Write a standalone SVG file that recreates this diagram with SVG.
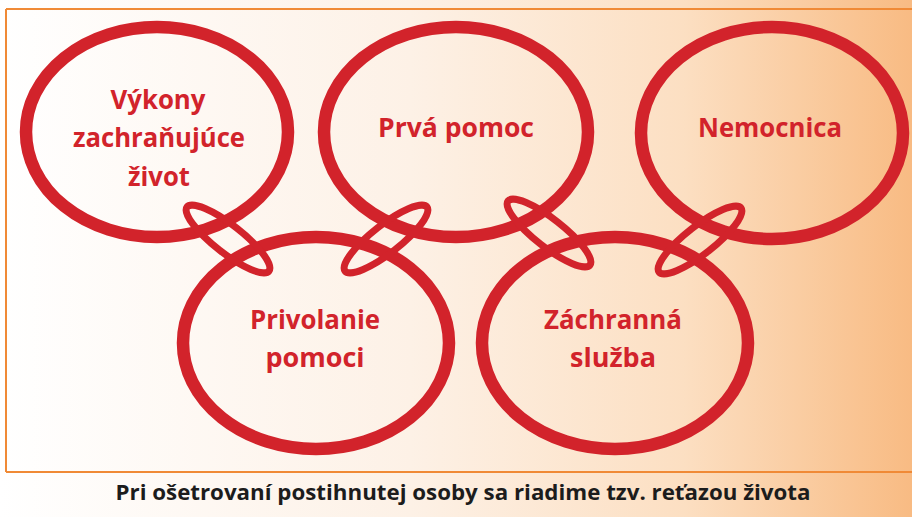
<svg xmlns="http://www.w3.org/2000/svg" width="912" height="517" viewBox="0 0 912 517">
<defs>
<linearGradient id="bg" x1="0" y1="0" x2="1" y2="0">
<stop offset="0" stop-color="#ffffff"/>
<stop offset="0.45" stop-color="#fdf1e6"/>
<stop offset="0.75" stop-color="#fcdfc2"/>
<stop offset="1" stop-color="#f8bb83"/>
</linearGradient>
<style>
.ring{fill:none;stroke:#d2232b;stroke-width:12.5}
.link{fill:none;stroke:#d2232b;stroke-width:7}
.lbl{font-family:"Open Sans","Liberation Sans",sans-serif;font-weight:bold;font-size:27px;fill:#d2232b;text-anchor:middle}
.cap{font-family:"Open Sans","Liberation Sans",sans-serif;font-weight:bold;font-size:22px;fill:#1c1c1c;text-anchor:middle}
.frame{stroke:#f08a36;stroke-width:2;fill:none}
</style>
</defs>
<rect x="0" y="0" width="912" height="517" fill="url(#bg)"/>
<g id="frame">
<line class="frame" x1="6" y1="9" x2="912" y2="9"/>
<line class="frame" x1="6" y1="9" x2="6" y2="472"/>
<line class="frame" x1="6" y1="472" x2="912" y2="472"/>
</g>
<g id="node-vykony">
<ellipse class="ring" cx="157" cy="132" rx="131" ry="105"/>
<text class="lbl" x="158" y="109" textLength="95" lengthAdjust="spacingAndGlyphs">Výkony</text>
<text class="lbl" x="159" y="147" textLength="172" lengthAdjust="spacingAndGlyphs">zachraňujúce</text>
<text class="lbl" x="159" y="186" textLength="62" lengthAdjust="spacingAndGlyphs">život</text>
</g>
<g id="node-prva-pomoc">
<ellipse class="ring" cx="456" cy="132" rx="132" ry="105"/>
<text class="lbl" x="456" y="137" textLength="156" lengthAdjust="spacingAndGlyphs">Prvá pomoc</text>
</g>
<g id="node-nemocnica">
<ellipse class="ring" cx="772" cy="133" rx="131" ry="106"/>
<text class="lbl" x="770" y="137" textLength="144" lengthAdjust="spacingAndGlyphs">Nemocnica</text>
</g>
<g id="node-privolanie">
<ellipse class="ring" cx="316" cy="343" rx="133" ry="106"/>
<text class="lbl" x="315" y="329" textLength="130" lengthAdjust="spacingAndGlyphs">Privolanie</text>
<text class="lbl" x="315" y="367">pomoci</text>
</g>
<g id="node-zachranna">
<ellipse class="ring" cx="615" cy="343" rx="133" ry="106"/>
<text class="lbl" x="613" y="329" textLength="138" lengthAdjust="spacingAndGlyphs">Záchranná</text>
<text class="lbl" x="613" y="367">služba</text>
</g>
<g id="connectors">
<ellipse class="link" cx="228" cy="239" rx="52" ry="14" transform="rotate(38 228 239)"/>
<ellipse class="link" cx="386" cy="239" rx="52" ry="14" transform="rotate(-38 386 239)"/>
<ellipse class="link" cx="549" cy="233" rx="52" ry="14" transform="rotate(38 549 233)"/>
<ellipse class="link" cx="700" cy="240" rx="52" ry="14" transform="rotate(-38 700 240)"/>
</g>
<g id="caption">
<text class="cap" x="463" y="500" textLength="695" lengthAdjust="spacingAndGlyphs">Pri ošetrovaní postihnutej osoby sa riadime tzv. reťazou života</text>
</g>
</svg>
